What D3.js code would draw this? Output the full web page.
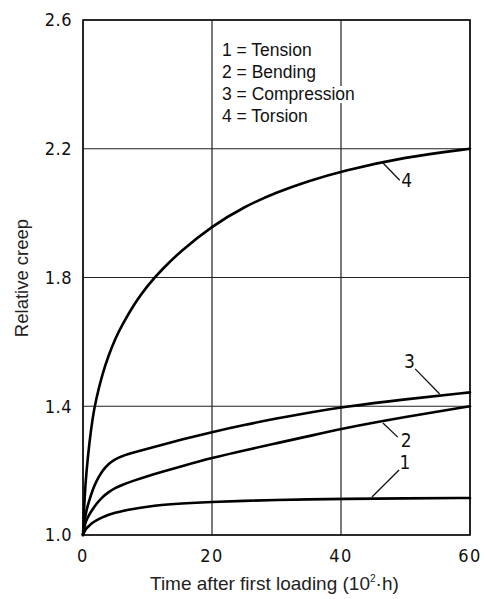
<!DOCTYPE html>
<html>
<head>
<meta charset="utf-8">
<script src="https://cdn.jsdelivr.net/npm/d3@7/dist/d3.min.js"></script>
<style>
  html, body { margin: 0; padding: 0; background: #fff; }
  svg { display: block; }
</style>
</head>
<body>
<script>
// ---- data ----
const times = [0, 0.25, 0.5, 1, 1.5, 2, 3, 4, 5, 6, 8, 10, 12, 15, 20, 25, 30, 35, 40, 50, 60];
const tension     = [1.0, 1.012, 1.02, 1.03, 1.038, 1.045, 1.055, 1.063, 1.069, 1.074, 1.082, 1.088, 1.093, 1.098, 1.103, 1.106, 1.109, 1.111, 1.112, 1.114, 1.115];
const bending     = [1.0, 1.03, 1.045, 1.065, 1.08, 1.095, 1.118, 1.134, 1.146, 1.155, 1.17, 1.183, 1.195, 1.212, 1.24, 1.263, 1.285, 1.307, 1.33, 1.367, 1.40];
const compression = [1.0, 1.045, 1.075, 1.11, 1.14, 1.165, 1.20, 1.222, 1.236, 1.245, 1.257, 1.268, 1.279, 1.295, 1.32, 1.342, 1.362, 1.38, 1.397, 1.422, 1.443];
const torsion     = [1.0, 1.12, 1.19, 1.29, 1.365, 1.42, 1.50, 1.56, 1.61, 1.65, 1.72, 1.775, 1.82, 1.88, 1.96, 2.02, 2.065, 2.10, 2.13, 2.175, 2.20];
const seriesValues = [tension, bending, compression, torsion];
const xTicks = [0, 20, 40, 60];
const yTicks = [1.0, 1.4, 1.8, 2.2, 2.6];
const legendLines = ["1 = Tension", "2 = Bending", "3 = Compression", "4 = Torsion"];
const curveLabels = ["1", "2", "3", "4"];
// label anchor (t, value) and leader line endpoints [t1, v1, t2, v2]
const labelPos = [[49.9, 1.205], [50.1, 1.273], [50.6, 1.519], [50.2, 2.08]];
const leaders = [[49.0, 1.202, 44.8, 1.118], [46.5, 1.348, 48.8, 1.304], [51.5, 1.516, 55.3, 1.438], [46.4, 2.158, 49.1, 2.102]];
const xTitle = "Time after first loading (10";
const yTitle = "Relative creep";

// ---- layout ----
const W = 485, H = 599;
const svg = d3.select("body").append("svg").attr("width", W).attr("height", H);
const x = d3.scaleLinear().domain([0, 60]).range([83, 470]);
const y = d3.scaleLinear().domain([1.0, 2.6]).range([535, 20]);
const tickFont = "'DejaVu Sans Condensed', 'Liberation Sans Narrow', sans-serif";
const textFont = "'Liberation Sans', Arial, sans-serif";

// grid
svg.append("g").selectAll("line.v").data(xTicks).join("line")
  .attr("x1", d => x(d)).attr("x2", d => x(d)).attr("y1", y(1.0)).attr("y2", y(2.6))
  .attr("stroke", "#222").attr("stroke-width", 1.2);
svg.append("g").selectAll("line.h").data(yTicks).join("line")
  .attr("x1", x(0)).attr("x2", x(60)).attr("y1", d => y(d)).attr("y2", d => y(d))
  .attr("stroke", "#222").attr("stroke-width", 1.2);

// frame
svg.append("rect").attr("x", x(0)).attr("y", y(2.6))
  .attr("width", x(60) - x(0)).attr("height", y(1.0) - y(2.6))
  .attr("fill", "none").attr("stroke", "#111").attr("stroke-width", 1.6);

// tick labels
svg.append("g").selectAll("text").data(yTicks).join("text")
  .attr("x", 72).attr("y", d => y(d)).attr("dy", "0.36em")
  .attr("text-anchor", "end").attr("font-family", tickFont).attr("font-size", 18)
  .attr("letter-spacing", 0.5).attr("fill", "#111")
  .text(d => d.toFixed(1));
svg.append("g").selectAll("text").data(xTicks).join("text")
  .attr("x", d => x(d)).attr("y", 562)
  .attr("text-anchor", "middle").attr("font-family", tickFont).attr("font-size", 18)
  .attr("letter-spacing", 1.5).attr("fill", "#111")
  .text(d => d);

// curves
const line = d3.line().x(d => x(d[0])).y(d => y(d[1])).curve(d3.curveBasis);
svg.append("g").selectAll("path").data(seriesValues).join("path")
  .attr("d", vals => line(times.map((t, i) => [t, vals[i]])))
  .attr("fill", "none").attr("stroke", "#000").attr("stroke-width", 2.6)
  .attr("stroke-linejoin", "round").attr("stroke-linecap", "round");

// curve labels and leaders
svg.append("g").selectAll("line").data(leaders).join("line")
  .attr("x1", d => x(d[0])).attr("y1", d => y(d[1]))
  .attr("x2", d => x(d[2])).attr("y2", d => y(d[3]))
  .attr("stroke", "#111").attr("stroke-width", 1.3);
svg.append("g").selectAll("text").data(curveLabels).join("text")
  .attr("x", (d, i) => x(labelPos[i][0])).attr("y", (d, i) => y(labelPos[i][1]))
  .attr("text-anchor", "middle").attr("font-family", tickFont).attr("font-size", 19)
  .attr("fill", "#111").text(d => d);

// legend
const lg = svg.append("g");
legendLines.forEach((s, i) => {
  const t = lg.append("text").attr("x", 222).attr("y", 56 + i * 22)
    .attr("font-family", textFont).attr("font-size", 17.5).attr("fill", "#111").text(s);
  const b = t.node().getBBox();
  lg.insert("rect", "text").attr("x", b.x).attr("y", b.y + 2).attr("width", b.width + 2).attr("height", b.height - 3)
    .attr("fill", "#fff");
});

// axis titles
const xt = svg.append("text").attr("x", 150).attr("y", 590)
  .attr("font-family", textFont).attr("font-size", 19).attr("fill", "#222");
xt.append("tspan").text(xTitle);
xt.append("tspan").attr("font-size", 10).attr("dy", -8).text("2");
xt.append("tspan").attr("dy", 8).text("\u00b7h)");

svg.append("text").attr("transform", `translate(28,${278}) rotate(-90)`)
  .attr("text-anchor", "middle").attr("font-family", textFont).attr("font-size", 18.5)
  .attr("fill", "#222").text(yTitle);
</script>
</body>
</html>
